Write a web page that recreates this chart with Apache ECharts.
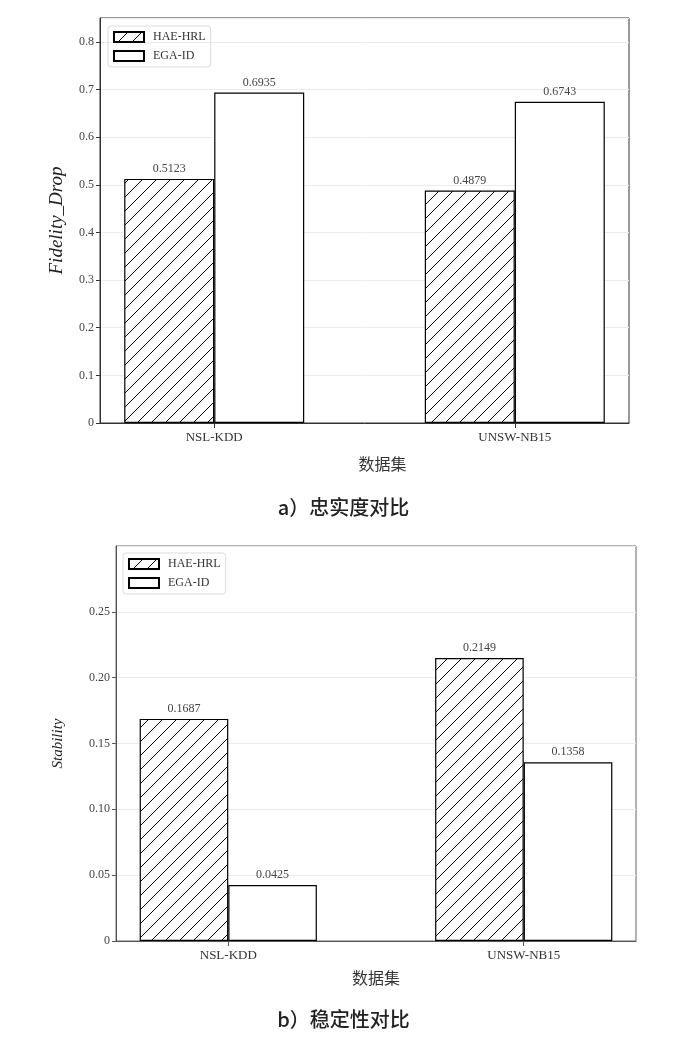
<!DOCTYPE html>
<html>
<head>
<meta charset="utf-8">
<script src="https://cdn.jsdelivr.net/npm/echarts@6/dist/echarts.min.js"></script>
<style>
html, body { margin: 0; padding: 0; background: #fff; }
#container { width: 687px; height: 1039px; }
</style>
</head>
<body>
<div id="container"></div>
<script>
var categories = ['NSL-KDD', 'UNSW-NB15'];
var seriesNames = ['HAE-HRL', 'EGA-ID'];
var fidelityHAE = [0.5123, 0.4879];
var fidelityEGA = [0.6935, 0.6743];
var stabilityHAE = [0.1687, 0.2149];
var stabilityEGA = [0.0425, 0.1358];

var dom = document.getElementById('container');
var myChart = echarts.init(dom);

// diagonal hatch like matplotlib '//'
function makeHatch() {
    var c = document.createElement('canvas');
    var s = 14;
    c.width = s;
    c.height = s;
    var ctx = c.getContext('2d');
    ctx.fillStyle = '#fff';
    ctx.fillRect(0, 0, s, s);
    ctx.strokeStyle = '#000';
    ctx.lineWidth = 1;
    ctx.beginPath();
    ctx.moveTo(-1, s + 1); ctx.lineTo(s + 1, -1);
    ctx.moveTo(-1, 1); ctx.lineTo(1, -1);
    ctx.moveTo(s - 1, s + 1); ctx.lineTo(s + 1, s - 1);
    ctx.stroke();
    return c;
}
var hatch = { image: makeHatch(), repeat: 'repeat' };

function toPairs(vals) {
    return vals.map(function (v, i) { return [i, v]; });
}

var tickFont = 'Liberation Serif';

function xAxisFor(gridIndex, nameGap, namePad, color) {
    return {
        type: 'value',
        gridIndex: gridIndex,
        min: -0.38,
        max: 1.38,
        name: '数据集',
        nameLocation: 'middle',
        nameGap: nameGap,
        nameTextStyle: { fontFamily: 'Noto Sans CJK SC', fontSize: 16, color: '#333', padding: namePad },
        axisLine: { show: true, onZero: false, lineStyle: { color: color, width: 1 } },
        axisTick: { show: true, length: 5, customValues: [0, 1], lineStyle: { color: color } },
        axisLabel: {
            customValues: [0, 1],
            margin: 8,
            fontFamily: tickFont,
            fontSize: 13,
            color: '#333',
            formatter: function (v) { return categories[Math.round(v)] || ''; }
        },
        splitLine: { show: false }
    };
}

function yAxisFor(gridIndex, max, interval, digits, name, nameSize, nameGap, color) {
    return {
        type: 'value',
        gridIndex: gridIndex,
        min: 0,
        max: max,
        interval: interval,
        name: name,
        nameLocation: 'middle',
        nameGap: nameGap,
        nameTextStyle: { fontFamily: tickFont, fontStyle: 'italic', fontSize: nameSize, color: '#222' },
        axisLine: { show: true, onZero: false, lineStyle: { color: color, width: 1 } },
        axisTick: { show: true, length: 4, lineStyle: { color: color } },
        axisLabel: {
            showMaxLabel: false,
            margin: 6,
            fontFamily: tickFont,
            fontSize: 12,
            color: '#444',
            formatter: function (v) { return v === 0 ? '0' : v.toFixed(digits); }
        },
        splitLine: { show: true, lineStyle: { color: '#ebebeb', width: 1 } }
    };
}

function barSeries(name, data, axisIndex, width, fill) {
    return {
        name: name,
        type: 'bar',
        xAxisIndex: axisIndex,
        yAxisIndex: axisIndex,
        data: toPairs(data),
        barWidth: width,
        barGap: '0%',
        itemStyle: { color: fill, borderColor: '#000', borderWidth: 1.2 },
        label: {
            show: true,
            position: 'top',
            distance: 4,
            fontFamily: tickFont,
            fontSize: 12,
            color: '#444',
            formatter: function (p) { return p.value[1].toFixed(4); }
        },
        emphasis: { disabled: true },
        animation: false
    };
}

function legendFor(left, top) {
    return {
        data: seriesNames,
        orient: 'vertical',
        left: left,
        top: top,
        icon: 'rect',
        itemWidth: 30,
        itemHeight: 10,
        itemGap: 7,
        padding: [5, 5, 5, 5],
        borderColor: '#dcdcdc',
        borderWidth: 1,
        borderRadius: 3,
        selectedMode: false,
        textStyle: { fontFamily: tickFont, fontSize: 12, color: '#333', padding: [0, 0, 0, 4] }
    };
}

option = {
    backgroundColor: '#fff',
    animation: false,
    title: [
        { text: 'a）忠实度对比', left: 'center', top: 492,
          textStyle: { fontFamily: 'Noto Sans CJK SC', fontSize: 20, fontWeight: 500, color: '#222' } },
        { text: 'b）稳定性对比', left: 'center', top: 1004,
          textStyle: { fontFamily: 'Noto Sans CJK SC', fontSize: 20, fontWeight: 500, color: '#222' } }
    ],
    legend: [legendFor(108, 26), legendFor(123, 553)],
    grid: [
        { left: 100, right: 58, top: 18, height: 405, show: true, borderColor: '#333', borderWidth: 1, backgroundColor: 'transparent' },
        { left: 116, right: 51, top: 546, height: 395, show: true, borderColor: '#666', borderWidth: 1, backgroundColor: 'transparent' }
    ],
    xAxis: [
        xAxisFor(0, 33, [0, 0, 0, 36], '#333'),
        xAxisFor(1, 29, [0, 0, 0, 0], '#555')
    ],
    yAxis: [
        yAxisFor(0, 0.85, 0.1, 1, 'Fidelity_Drop', 19, 34, '#333'),
        yAxisFor(1, 0.30, 0.05, 2, 'Stability', 15, 50, '#555')
    ],
    series: [
        barSeries(seriesNames[0], fidelityHAE, 0, 90, hatch),
        barSeries(seriesNames[1], fidelityEGA, 0, 90, '#fff'),
        barSeries(seriesNames[0], stabilityHAE, 1, 88.6, hatch),
        barSeries(seriesNames[1], stabilityEGA, 1, 88.6, '#fff')
    ]
};

if (option && typeof option === 'object') {
    myChart.setOption(option, true);
}
</script>
</body>
</html>
